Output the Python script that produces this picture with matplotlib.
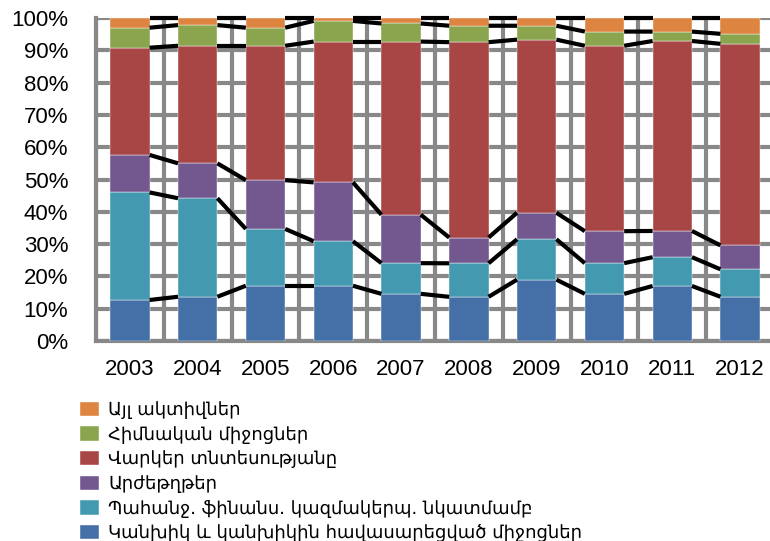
import numpy as np
import matplotlib
matplotlib.use("Agg")
import matplotlib.pyplot as plt

plt.rcParams['font.family'] = ['Liberation Sans', 'DejaVu Sans']

years = ["2003", "2004", "2005", "2006", "2007", "2008", "2009", "2010", "2011", "2012"]

# shares in percent, bottom to top
cash = [12.7, 13.7, 17.1, 17.1, 14.6, 13.7, 19.0, 14.6, 17.0, 13.7]
claims_fin = [33.3, 30.5, 17.6, 13.8, 9.5, 10.4, 12.5, 9.5, 8.9, 8.5]
securities = [11.6, 10.8, 15.1, 18.2, 15.0, 8.0, 8.2, 9.9, 8.1, 7.4]
loans = [33.2, 36.4, 41.6, 43.6, 53.6, 60.6, 53.6, 57.4, 58.7, 62.4]
fixed = [6.2, 6.4, 5.6, 6.4, 5.6, 5.1, 4.3, 4.4, 2.9, 3.1]
other = [3.0, 2.2, 3.0, 0.9, 1.7, 2.4, 2.4, 4.2, 4.2, 4.9]

labels = [
    "Կանխիկ և կանխիկին հավասարեցված միջոցներ",
    "Պահանջ. ֆինանս. կազմակերպ. նկատմամբ",
    "Արժեթղթեր",
    "Վարկեր տնտեսությանը",
    "Հիմնական միջոցներ",
    "Այլ ակտիվներ",
]
colors = ["#4570A7", "#4399B0", "#72588F", "#A84646", "#8AA54E", "#DD8440"]

series = np.array([cash, claims_fin, securities, loans, fixed, other])
shares = series / series.sum(axis=0) * 100

fig = plt.figure(figsize=(7.7, 5.41), dpi=100)
ax = fig.add_axes([96 / 770, 1 - 341 / 541, 678 / 770, 323 / 541])

x = np.arange(len(years))
w = 0.58
bottom = np.zeros(len(years))
handles = []
for vals, lab, col in zip(shares, labels, colors):
    b = ax.bar(x, vals, w, bottom=bottom, color=col, label=lab, zorder=3,
               edgecolor="white", linewidth=0.3)
    handles.append(b)
    bottom = bottom + vals
    # series lines between bars
    for i in range(len(years) - 1):
        ax.plot([x[i] + w / 2, x[i + 1] - w / 2], [bottom[i], bottom[i + 1]],
                color="black", lw=3, solid_capstyle="butt", zorder=4, clip_on=False)

ax.set_xlim(-0.5, len(years) - 0.5)
ax.set_ylim(0, 100)
ax.set_yticks(np.arange(0, 101, 10))
ax.set_yticklabels([f"{v}%" for v in range(0, 101, 10)], fontsize=16)
ax.set_xticks(x)
ax.set_xticklabels(years, fontsize=16)
ax.set_xticks(np.arange(-0.5, len(years), 1), minor=True)
ax.tick_params(length=0, which="both", pad=13)
ax.tick_params(axis="y", pad=20)

ax.grid(axis="y", color="#888888", lw=3, zorder=1)
ax.grid(axis="x", which="minor", color="#888888", lw=3, zorder=1)
ax.grid(axis="x", which="major", visible=False)
for s in ["top", "right"]:
    ax.spines[s].set_visible(False)
for s in ["left", "bottom"]:
    ax.spines[s].set_color("#888888")
    ax.spines[s].set_linewidth(3)

leg = fig.legend(handles[::-1], labels[::-1], loc="upper left",
                 bbox_to_anchor=(80 / 770, 1 - 401 / 541), frameon=False,
                 prop={"family": "DejaVu Sans", "size": 13},
                 handlelength=1.05, handleheight=0.85, handletextpad=0.5,
                 labelspacing=0.37, borderaxespad=0, borderpad=0)

fig.savefig("out.png", dpi=100)
